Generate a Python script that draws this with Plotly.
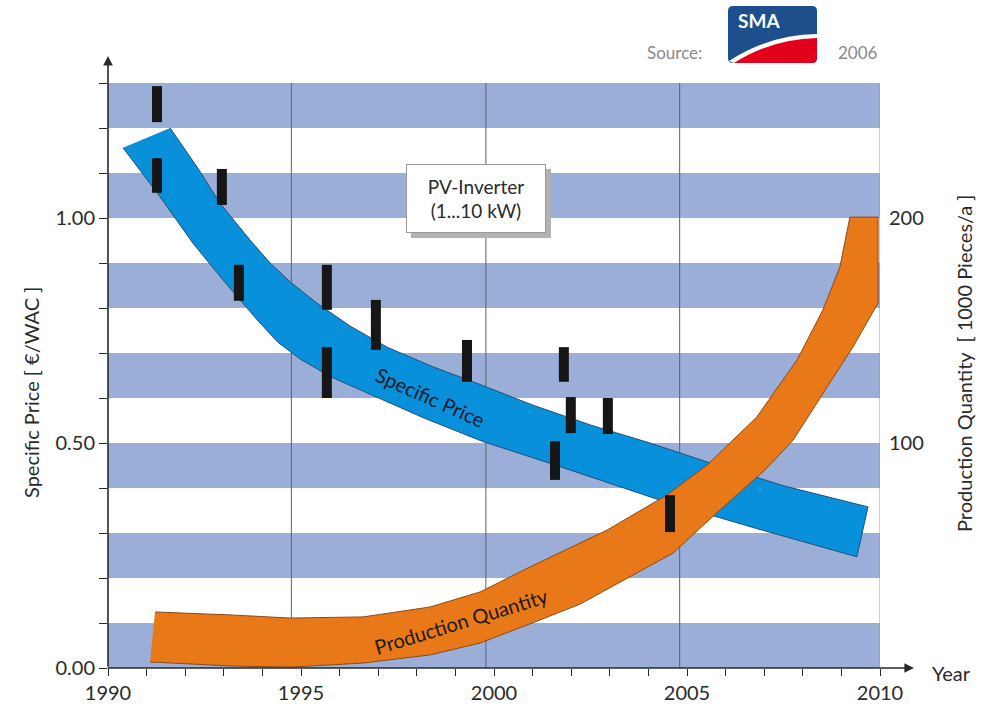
import plotly.graph_objects as go

# ---------------- data ----------------
# Specific price band (EUR/W), upper and lower edges
price_upper_years = [1991.61, 1992.31, 1992.90, 1993.68, 1994.20, 1994.72, 1995.41, 1996.27, 1997.23,
                     1998.40, 1999.64, 2001.01, 2002.50, 2004.04, 2005.52, 2007.50, 2009.69]
price_upper = [1.200, 1.113, 1.033, 0.951, 0.900, 0.858, 0.811, 0.760, 0.713,
               0.670, 0.630, 0.584, 0.540, 0.500, 0.458, 0.405, 0.358]
price_lower_years = [1990.39, 1991.35, 1992.20, 1993.08, 1993.86, 1994.40, 1994.97, 1995.80,
                     1996.71, 1998.20, 1999.72, 2001.45, 2004.30, 2006.80, 2009.40]
price_lower = [1.156, 1.047, 0.944, 0.852, 0.774, 0.724, 0.687, 0.646,
               0.612, 0.555, 0.503, 0.455, 0.373, 0.310, 0.247]

# Production quantity band (1000 pieces/a), upper and lower edges
prod_upper_years = [1991.22, 1993.16, 1994.72, 1996.61, 1998.34, 1999.64, 2000.93, 2002.93,
                    2004.48, 2005.52, 2006.81, 2007.85, 2008.52, 2008.96, 2009.22, 2009.95]
prod_upper = [24.9, 23.6, 22.2, 22.7, 27.1, 33.8, 44.9, 61.3,
              76.9, 90.2, 111.6, 136.9, 159.1, 178.2, 200.4, 200.4]
prod_lower_years = [1991.09, 1993.16, 1994.72, 1996.61, 1998.34, 1999.64, 2000.93, 2002.23,
                    2003.26, 2004.64, 2005.85, 2007.02, 2007.75, 2008.63, 2009.30, 2009.95]
prod_lower = [2.7, 0.9, 0.4, 2.2, 5.8, 11.1, 19.6, 28.4,
              38.2, 51.1, 70.2, 88.0, 101.3, 124.9, 142.7, 162.2]

# Observed price ranges (EUR/W)
obs_years = [1991.27, 1991.27, 1992.95, 1993.39, 1995.67, 1996.94, 1995.67,
             1999.30, 2001.81, 2001.99, 2002.95, 2001.58, 2004.56]
obs_high = [1.293, 1.133, 1.109, 0.896, 0.896, 0.818, 0.713,
            0.729, 0.713, 0.602, 0.600, 0.504, 0.384]
obs_low = [1.213, 1.056, 1.029, 0.816, 0.796, 0.707, 0.600,
           0.636, 0.636, 0.522, 0.520, 0.418, 0.302]

x_tick_vals = [1990, 1995, 2000, 2005, 2010]
x_tick_text = ["1990", "1995", "2000", "2005", "2010"]
y_tick_vals = [0.0, 0.5, 1.0]
y2_tick_vals = [100, 200]
stripe_lows = [0.0, 0.2, 0.4, 0.6, 0.8, 1.0, 1.2]
grid_years = [1994.75, 1999.79, 2004.81]

# ---------------- style ----------------
FONT = "Lato"
STRIPE = "#9AAED8"
BLUE = "#0890DA"
ORANGE = "#E87818"
INK = "#2a2a2a"
Y_MAX = 1.3
Y2_MAX = 260

fig = go.Figure()

# price band polygon
fig.add_trace(go.Scatter(
    x=price_upper_years + price_lower_years[::-1],
    y=price_upper + price_lower[::-1],
    fill="toself", fillcolor=BLUE, mode="lines",
    line=dict(color="#20507a", width=1), hoverinfo="skip", showlegend=False,
    yaxis="y"))

# production band polygon (right axis)
fig.add_trace(go.Scatter(
    x=prod_upper_years + prod_lower_years[::-1],
    y=prod_upper + prod_lower[::-1],
    fill="toself", fillcolor=ORANGE, mode="lines",
    line=dict(color="#8a4a14", width=1), hoverinfo="skip", showlegend=False,
    yaxis="y2"))

# observed price ranges as thick vertical segments
bx, by = [], []
for yr, lo, hi in zip(obs_years, obs_low, obs_high):
    bx += [yr, yr, None]
    by += [lo, hi, None]
fig.add_trace(go.Scatter(
    x=bx, y=by, mode="lines", line=dict(color="#161616", width=10),
    hoverinfo="skip", showlegend=False, yaxis="y3"))

shapes = []
for s in stripe_lows:
    shapes.append(dict(type="rect", xref="paper", yref="y", x0=0, x1=1,
                       y0=s, y1=min(s + 0.1, Y_MAX), fillcolor=STRIPE,
                       line=dict(width=0), layer="below"))
for g in grid_years:
    shapes.append(dict(type="line", xref="x", yref="y", x0=g, x1=g, y0=0, y1=Y_MAX,
                       line=dict(color="#5b6172", width=1), layer="below"))
shapes.append(dict(type="line", xref="x", yref="y", x0=2010, x1=2010, y0=0, y1=Y_MAX,
                   line=dict(color="#9a9a9a", width=1), layer="below"))

# decoration helpers (paper coordinates from pixel positions)
PL, PT, PW, PH = 108, 83, 772, 585


def px(xp):
    return (xp - PL) / PW


def py(yp):
    return (PT + PH - yp) / PH


# info box shadow
shapes.append(dict(type="rect", xref="paper", yref="paper",
                   x0=px(411), x1=px(551), y0=py(238), y1=py(169),
                   fillcolor="#b2b2b2", line=dict(width=0), layer="above"))

# SMA logo
r = 5
lx0, lx1, ly0, ly1 = 728, 817, 6, 63
logo_path = (f"M {px(lx0 + r)},{py(ly0)} L {px(lx1 - r)},{py(ly0)} "
             f"Q {px(lx1)},{py(ly0)} {px(lx1)},{py(ly0 + r)} "
             f"L {px(lx1)},{py(ly1 - r)} Q {px(lx1)},{py(ly1)} {px(lx1 - r)},{py(ly1)} "
             f"L {px(lx0 + r)},{py(ly1)} Q {px(lx0)},{py(ly1)} {px(lx0)},{py(ly1 - r)} "
             f"L {px(lx0)},{py(ly0 + r)} Q {px(lx0)},{py(ly0)} {px(lx0 + r)},{py(ly0)} Z")
shapes.append(dict(type="path", xref="paper", yref="paper", path=logo_path,
                   fillcolor="#1d4f8c", line=dict(width=0), layer="above"))
shapes.append(dict(type="path", xref="paper", yref="paper",
                   path=f"M {px(729)},{py(61)} Q {px(768)},{py(35)} {px(817)},{py(34)} "
                        f"L {px(817)},{py(40)} L {px(734)},{py(63)} Z",
                   fillcolor="#ffffff", line=dict(width=0), layer="above"))
shapes.append(dict(type="path", xref="paper", yref="paper",
                   path=f"M {px(734)},{py(63)} Q {px(772)},{py(39)} {px(817)},{py(38)} "
                        f"L {px(817)},{py(58)} Q {px(817)},{py(63)} {px(812)},{py(63)} Z",
                   fillcolor="#e2001a", line=dict(width=0), layer="above"))


def ann(x, y, text, size, color=INK, angle=0, ref="paper", **kw):
    d = dict(xref=ref, yref=ref if ref == "paper" else "y", x=x, y=y, text=text,
             showarrow=False, textangle=angle, xanchor="center", yanchor="middle",
             font=dict(family=FONT, size=size, color=color))
    d.update(kw)
    return d


annotations = [
    # y axis with arrow
    dict(xref="paper", yref="paper", x=0, y=py(56), ax=0, ay=PT + PH - 56,
         axref="pixel", ayref="pixel", text="", showarrow=True,
         arrowhead=2, arrowsize=1.2, arrowwidth=1.6, arrowcolor=INK, standoff=0),
    # x axis with arrow
    dict(xref="paper", yref="paper", x=px(914), y=0, ax=-(914 - 106), ay=0,
         axref="pixel", ayref="pixel", text="", showarrow=True,
         arrowhead=2, arrowsize=1.2, arrowwidth=1.6, arrowcolor=INK, standoff=0),
    ann(px(951), py(673), "Year", 20),
    ann(px(31), py(393), "Specific Price [ €/WAC ]", 20, angle=-90),
    ann(px(964), py(364), "Production Quantity  [ 1000 Pieces/a ]", 20, angle=-90),
    ann(px(476), py(198), "PV-Inverter<br>(1...10 kW)", 19,
        bgcolor="#ffffff", borderpad=0, borderwidth=1, bordercolor="#9a9a9a",
        width=138, height=67),
    # band labels
    ann(1998.35, 0.602, "Specific Price", 20, color="#1a1a2a", angle=24, ref="x"),
    ann(1999.15, 0.105, "Production Quantity", 20, color="#1a1a1a", angle=-17, ref="x"),
    # source
    ann(px(674), py(53), "Source:", 17, color="#8a8a8a"),
    ann(px(858), py(53), "2006", 17, color="#8a8a8a"),
    ann(px(759), py(21), "<b>SMA</b>", 19, color="#ffffff"),
]

fig.update_layout(
    width=987, height=706,
    margin=dict(l=PL, r=987 - PL - PW, t=PT, b=706 - PT - PH, autoexpand=False),
    paper_bgcolor="white", plot_bgcolor="white",
    showlegend=False,
    font=dict(family=FONT, size=17, color=INK),
    xaxis=dict(range=[1990, 2010], tickvals=x_tick_vals, ticktext=x_tick_text,
               ticks="outside", ticklen=7, tickcolor=INK, tickwidth=1,
               minor=dict(dtick=1, ticks="outside", ticklen=7, tickcolor=INK),
               showgrid=False, zeroline=False, showline=False, automargin=False,
               tickfont=dict(family=FONT, size=20, color=INK)),
    yaxis=dict(range=[0, Y_MAX], tickvals=y_tick_vals, tickformat=".2f",
               ticks="outside", ticklen=8, tickcolor=INK,
               minor=dict(dtick=0.1, ticks="outside", ticklen=8, tickcolor=INK),
               showgrid=False, zeroline=False, showline=False, automargin=False,
               tickfont=dict(family=FONT, size=20, color=INK)),
    yaxis2=dict(range=[0, Y2_MAX], overlaying="y", side="right", tickvals=y2_tick_vals,
                ticks="", showgrid=False, zeroline=False, showline=False, automargin=False,
                ticklabelstandoff=8, tickfont=dict(family=FONT, size=20, color=INK)),
    yaxis3=dict(range=[0, Y_MAX], overlaying="y", visible=False),
    shapes=shapes,
    annotations=annotations,
)

fig.write_html("out.html")
